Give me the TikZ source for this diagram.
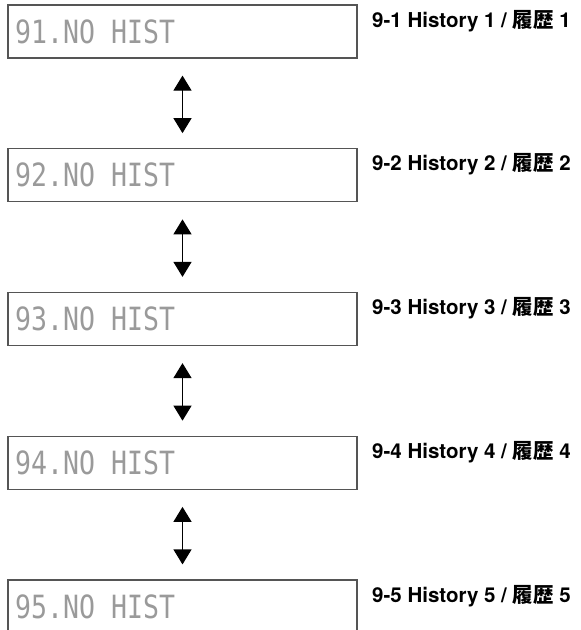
\documentclass[tikz,border=0pt]{standalone}
\usepackage{graphicx}
\usepackage{fontspec}
\setmainfont{TeX Gyre Heros}
\newfontfamily\jpfont{Noto Sans CJK JP}
\newfontfamily\lcdfont{DejaVu Sans Mono}
\usetikzlibrary{arrows.meta}
\definecolor{framegray}{HTML}{555555}
\definecolor{lcdgray}{HTML}{9A9A9A}
\tikzset{
  lcdbox/.style={draw=framegray, line width=1.2pt, minimum width=349pt, minimum height=53pt, inner sep=0pt},
  lcdtext/.style={anchor=west, inner sep=0pt, text=lcdgray, font=\lcdfont\fontsize{32}{32}\selectfont},
  captext/.style={anchor=base west, inner sep=0pt, font=\bfseries\fontsize{20.5}{24}\selectfont},
  updown/.style={{Triangle[width=18pt,length=15pt]}-{Triangle[width=18pt,length=15pt]}, line width=1.2pt, shorten <=17pt, shorten >=15pt}
}
\begin{document}
\begin{tikzpicture}[x=1pt,y=-1pt]
\clip (0,0) rectangle (581,630);
\foreach \i in {1,...,5}{
  \pgfmathsetmacro{\top}{5+143.75*(\i-1)}
  \pgfmathsetmacro{\cy}{\top+26.5}
  \pgfmathsetmacro{\by}{\top+22}
  \node[lcdbox] (b\i) at (182.5,\cy) {};
  \node[lcdtext] (t\i) at (15,\cy) {\scalebox{0.83}[1]{9\i.NO HIST}};
  \node[captext] (c\i) at (372,\by) {9-\i\ History \i\ / {\jpfont 履歴} \i};
}
\foreach \i/\j in {1/2,2/3,3/4,4/5}{
  \draw[updown] (b\i.south) -- (b\j.north);
}
\end{tikzpicture}
\end{document}
